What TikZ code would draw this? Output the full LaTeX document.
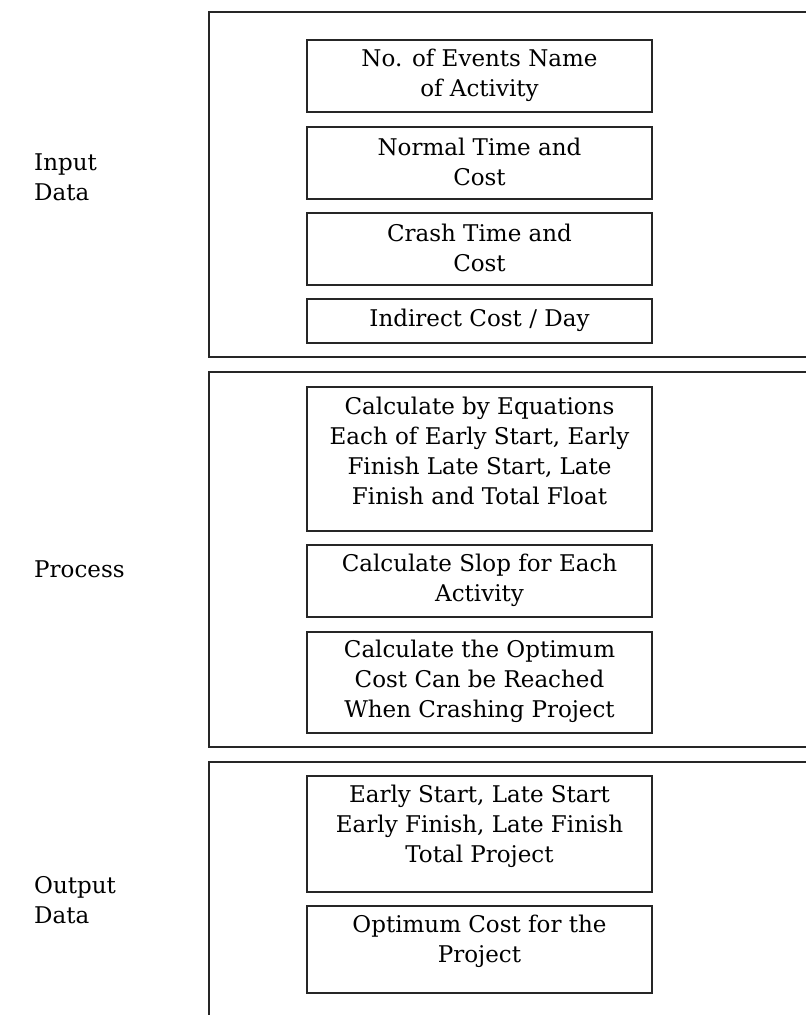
\documentclass[tikz,border=0pt]{standalone}
\usepackage{fontspec}
\setmainfont{DejaVu Serif}
\begin{document}
\begin{tikzpicture}[x=1pt,y=-1pt,
  frame/.style={draw=black!85, line width=1.3pt},
  box/.style={draw=black!85, line width=1.3pt, minimum width=345pt, inner sep=0pt},
  txt/.style={align=center, font=\fontsize{23}{30}\selectfont, inner sep=0pt},
  lbl/.style={align=left, anchor=west, font=\fontsize{23}{30}\selectfont, inner sep=0pt}]
\useasboundingbox (0,0) rectangle (806,1015);
\clip (0,0) rectangle (806,1015);
% outer frames
\draw[frame] (209,12) rectangle (830,357);
\draw[frame] (209,372) rectangle (830,747);
\draw[frame] (209,762) rectangle (830,1040);
% side labels
\node[lbl] (lin) at (34,177) {Input\\Data};
\node[lbl] (lpr) at (34,569) {Process};
\node[lbl] (lout) at (34,900) {Output\\Data};
% input boxes
\node[box, minimum height=72pt] (b1) at (479.5,76) {};
\node[txt] (t1) at ([yshift=1pt]b1.center) {No. of Events Name\\of Activity};
\node[box, minimum height=72pt] (b2) at (479.5,163) {};
\node[txt] (t2) at ([yshift=1pt]b2.center) {Normal Time and\\Cost};
\node[box, minimum height=72pt] (b3) at (479.5,249) {};
\node[txt] (t3) at ([yshift=1pt]b3.center) {Crash Time and\\Cost};
\node[box, minimum height=44pt] (b4) at (479.5,321) {};
\node[txt] (t4) at ([yshift=1pt]b4.center) {Indirect Cost / Day};
% process boxes
\node[box, minimum height=144pt] (b5) at (479.5,459) {};
\node[txt] (t5) at ([yshift=8pt]b5.center) {Calculate by Equations\\Each of Early Start, Early\\Finish Late Start, Late\\Finish and Total Float};
\node[box, minimum height=72pt] (b6) at (479.5,581) {};
\node[txt] (t6) at ([yshift=1pt]b6.center) {Calculate Slop for Each\\Activity};
\node[box, minimum height=101pt] (b7) at (479.5,682.5) {};
\node[txt] (t7) at ([yshift=1pt]b7.center) {Calculate the Optimum\\Cost Can be Reached\\When Crashing Project};
% output boxes
\node[box, minimum height=116pt] (b8) at (479.5,834) {};
\node[txt] (t8) at ([yshift=8pt]b8.center) {Early Start, Late Start\\Early Finish, Late Finish\\Total Project};
\node[box, minimum height=87pt] (b9) at (479.5,949.5) {};
\node[txt] (t9) at ([yshift=8pt]b9.center) {Optimum Cost for the\\Project};
\end{tikzpicture}
\end{document}
